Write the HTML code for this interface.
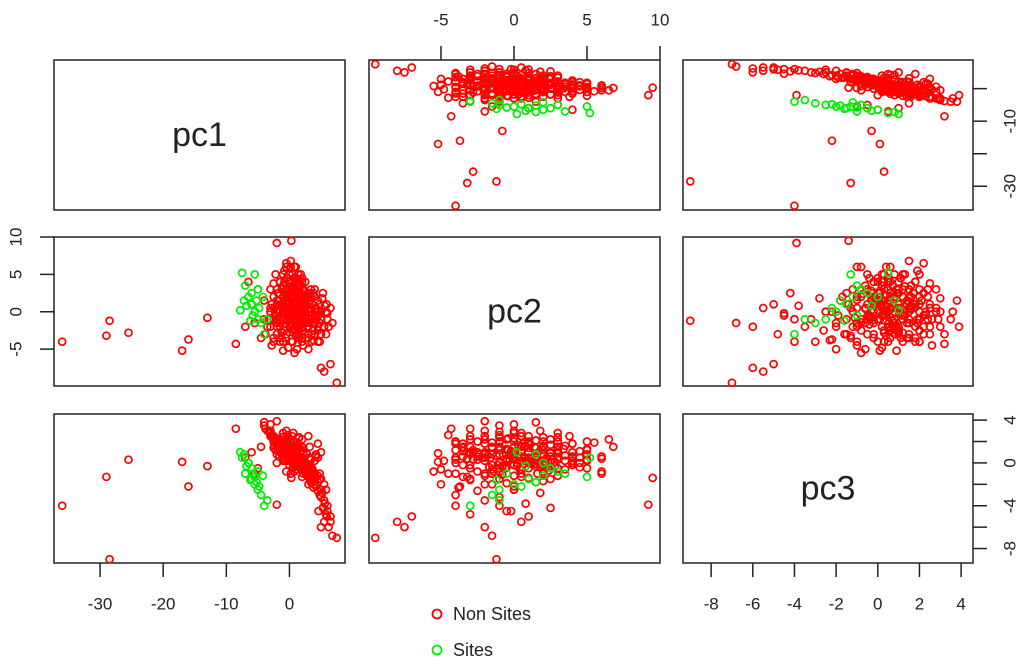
<!DOCTYPE html>
<html><head><meta charset="utf-8"><style>
html,body{margin:0;padding:0;background:#fff;}
svg{display:block;font-family:"Liberation Sans",Arial,sans-serif;}
</style></head><body>
<svg id="chart" width="1024" height="668" viewBox="0 0 1024 668" xmlns="http://www.w3.org/2000/svg"></svg>
<script>
const varNames = ["pc1","pc2","pc3"];
const coreP1 = [-1,0.5,2,3.5,4.5,-2.5, -2,-0.5,1,2.5,4,5,3, -3,-1.5,0,1.5,3,4.5,5.5,2, -2.5,-1,0.5,2,3.5,5,-0.3,1.2,4.2, -3,-1.8,-0.5,0.8,2,3.2,4.5,5.8,1.5,-1, -2.8,-1.2,0,1.2,2.4,3.6,4.8,0.6,-2, -2.5,-1,0.3,1.5,2.8,4,-0.2,1, -2,-0.5,1,2.2,3.4,0.2, -1.5,0,1.3,2.5,-0.8, -1,0.5,1.8,0, -0.5,0.8,0.2, -1.5,1.5,3, -0.8,0.8,2.2,3.8, -2,0.2,1.8,3.2,4.8, -2.2,-0.2,1,2.6,4, -2.4,-0.8,0.4,1.8,3,4.2, -1.6,-0.4,1,2.2,3.2, -1.8,0,1.6,3, -1,0.6,1.8, -0.4,1,2];
const coreP2 = [-4,-4,-4,-4,-4,-4, -3,-3,-3,-3,-3,-3,-3, -2,-2,-2,-2,-2,-2,-2,-2, -1,-1,-1,-1,-1,-1,-1,-1,-1, 0,0,0,0,0,0,0,0,0,0, 1,1,1,1,1,1,1,1,1, 2,2,2,2,2,2,2,2, 3,3,3,3,3,3, 4,4,4,4,4, 5,5,5,5, 6,6,6, -3.5,-3.5,-3.5, -2.5,-2.5,-2.5,-2.5, -1.5,-1.5,-1.5,-1.5,-1.5, -0.5,-0.5,-0.5,-0.5,-0.5, 0.5,0.5,0.5,0.5,0.5,0.5, 1.5,1.5,1.5,1.5,1.5, 2.5,2.5,2.5,2.5, 3.5,3.5,3.5, 4.5,4.5,4.5];
const coreP3 = [0.5,1.2,0,-1,1.8,2, 1.5,2.2,0.8,-0.5,-1.5,1,2.5, 2.5,1,1.8,0.2,-1,0.5,-2,2.2, 2,1.5,0,1.2,-0.8,-1.5,2.6,1.9,0.8, 3,2,0.8,1.5,-0.2,0.4,-1.2,-2.5,2.3,2.8, 2.5,1.8,0.5,1,0.2,-0.5,-1.5,2,0, 2,1.2,0.6,-0.2,0.8,-1,2.4,1.6, 1.5,0.5,1.2,-0.5,0.3,2, 1,-0.2,0.6,0,1.8, 0.8,-0.5,0.2,1.3, -0.8,0.4,-1, 1.8,0.6,-0.2, 0.3,2,1,-0.8, 0.8,1.4,-0.6,1.5,-1, 1.2,2.2,0.4,-0.4,0.2, 1.6,0.2,2.5,1.1,-1.3,0.6, 0.6,2.1,-0.3,1.4,0.5, 2.2,1,0.1,-0.3, 0.2,1.6,-0.6, 1.1,0,-0.4];
const denseP1 = [0,1,2,-1,0.5,1.5,2.5,-0.5,0.2,1.2, 2.2,3,-1.5,0.8,1.8,-0.8,0.4,1.4,2.6,3.4, -0.2,0.6,1.6,2.4,-1.2,0.9,1.9,2.9,0.1,1.1, -0.6,0.3,1.3,2.3,3.3,0.7,1.7,-0.4,2.1,1];
const denseP2 = [0,0.5,-0.5,1,-1,1.5,-1.5,2,-2,2.5, 0.2,-0.8,0.8,-1.2,1.2,-0.2,2.2,-2.2,1.8,0.4, 3,-2.8,2.8,-0.6,0.6,-1.8,1.6,-1.4,3.4,-3.2, 1.4,-0.4,0.3,-0.3,2.4,-2.4,0.9,1.1,-1.1,4];
const denseP3 = [0.5,1,0.2,1.4,0.8,0.3,-0.2,1.2,0.9,0.6, 0,-0.4,1.6,0.7,-0.1,1.1,0.4,0.5,-0.3,-0.6, 0.9,1,0.1,-0.5,1.8,0.7,0.2,-0.8,1.3,0.4, 1.5,1.2,0.6,0.3,-0.7,0.8,0.1,1.7,-0.2,0.5];
const extraP1 = [0,1,-1,2,-2,3,0.5,-0.5,1.5,-3, 4,2.5,-1.5,0,1,-0.5,0.3,-2.5,3.5,5, 4.5,-3.5,-3,2,1.2,-1,0.8,-0.2,1.8,2.8, -1.8,0.5,-0.8,1.3,3.2,5.5,6,5.8,6.5,4.8, -4,-4,-2.2,0.2,-1.2,2.2,3.8,-0.6,0.9,1.6, -2.8,-3.8,4.2,5.2,6.2,6.8,3,-1.5,0,2.5, -2,1,0.3,-0.3,1.7,-1.2,3.5,2.2,-2.5,0.7, 4,-0.8,1.4,-3.2,5,4.5,3.8,2,-0.2,0.8, 2.6,-1,1.1,0.1,-2.3,2.9,3.3,-1.7,5.6,6, 5.3,4.6,5.9,-3,-2,-0.5,1.5,0.6,2,-1.5, -7,-6,-5,-6.5,-5.5,-4.5,-2,0.3,5,5.5, 6.5,7.5,-36,-29,-28.5,-25.5,-17,-16,-13,-8.5];
const extraP2 = [0,1,2,-1,-1,0.5,3,-2,-3,0.5, -1.5,2,4,5,6,6.5,-4,-3.5,-3,0, 1.5,-2,3,4,-5,-5.2,2.2,1,0.2,-2, 0.3,-1,-0.5,3.5,1,-2,-1,-3,0.5,-4, -1,1.5,5,6.8,3,-4.5,2.5,-3.5,-2.5,1.5, -4.5,-3,0,1.8,-2,-1.5,-5,-1.5,2.5,0.5, 1.5,-0.5,0.8,-0.3,-1.7,-2.8,-0.5,2.8,3.8,4.5, 3,5.5,5,-1,-1,-2.5,-3.8,-3.5,-4.8,-5.5, 1.6,0.5,2,-1.6,-0.4,-0.8,2,2.5,0.8,-0.2, 2.5,-0.5,1,0,-2,1.8,-1,0.5,3,-4, -2,1,3,4,-1.5,-3.5,9.2,9.5,-7.5,-8, -7,-9.5,-4,-3.2,-1.2,-2.8,-5.2,-3.7,-0.8,-4.3];
const extraP3 = [0.5,0,1.5,-0.5,2,-1,1,0.8,-0.2,2.5, -2,-0.8,1.8,1.2,0.6,2.2,0.3,1.4,-1.6,-2.5, -1.8,3,2.8,0.2,-0.6,0.9,0.4,1,-0.3,-1.2, 1.6,0.1,1.3,0.7,-1.4,-3.5,-4,-4.8,-5.5,-3, 3.5,3.8,2,1.5,2.4,-1,-1.5,1.1,0.6,-0.1, 2.6,3.2,-2.2,-2.8,-6,-6.8,-2,1.9,0.9,-0.6, 2.1,0.3,0.2,0.7,-0.4,1.2,-1.9,-0.3,2.5,0.5, -1.2,1.9,0.3,2.9,-3.2,-2.6,-2.3,-1.3,0.2,-0.8, -1,1.5,0.1,0.5,2.3,-1.1,-1.7,1.7,-3.8,-4.5, -4.2,-4.5,-5,3.6,3.9,3,2.4,2.8,1.5,2, 0.5,1,-0.5,0,-1,1.5,-3.9,-1.4,-6,-5.5, -5,-7,-4,-1.3,-9,0.3,0.1,-2.2,-0.3,3.2];
const siteP1 = [-7.5,-7,-6.5,-6,-5.5,-5,-4.5,-4,-6,-7.2, -5.8,-5.2,-4.8,-6.8,-3.5,-4.2,-5,-7.8,-6.2,-5.5];
const siteP2 = [5.2,3.5,2,1,0,-1,-1.5,-3,2.5,1.5, -0.5,1.5,0.5,0.8,-1,2,3,0.2,-1.2,5];
const siteP3 = [0.5,-1,0,-1.5,-2,-2.5,-3,-4,-0.5,0.8, -1,-1.8,-2.2,-0.3,-3.5,-1.2,-0.8,1,-1.6,-1.3];
const pc1 = coreP1.concat(denseP1, extraP1, siteP1);
const pc2 = coreP2.concat(denseP2, extraP2, siteP2);
const pc3 = coreP3.concat(denseP3, extraP3, siteP3);
const group = [];
for (let i = 0; i < pc1.length; i++) group.push(i < pc1.length - siteP1.length ? "Non Sites" : "Sites");
const pc1Ticks = [-30,-20,-10,0];
const pc2Ticks = [-5,0,5,10];
const pc3Ticks = [-8,-6,-4,-2,0,2,4];
const data = [pc1, pc2, pc3];
const domains = [[-37.3, 8.8], [-9.93, 10], [-9.35, 4.57]];
const colX = [[54,345],[369,660],[683,973]];
const rowY = [[60,210],[237,386],[414,563]];
const NS = "http://www.w3.org/2000/svg";
const svg = document.getElementById("chart");
function xScale(v, val, col){const d=domains[v],p=colX[col];return p[0]+(val-d[0])/(d[1]-d[0])*(p[1]-p[0]);}
function yScale(v, val, row){const d=domains[v],p=rowY[row];return p[1]-(val-d[0])/(d[1]-d[0])*(p[1]-p[0]);}
function mk(tag, attrs){const e=document.createElementNS(NS,tag);for(const k in attrs)e.setAttribute(k,attrs[k]);svg.appendChild(e);return e;}
function label(x,y,txt,rot,size){const t=mk("text",{x:x,y:y,"text-anchor":"middle","dominant-baseline":"central","font-size":size||17,fill:"#222"});if(rot)t.setAttribute("transform","rotate(-90 "+x+" "+y+")");t.textContent=txt;return t;}
for (let r=0;r<3;r++){
  for (let c=0;c<3;c++){
    const x0=colX[c][0],x1=colX[c][1],y0=rowY[r][0],y1=rowY[r][1];
    const g = mk("rect",{x:x0,y:y0,width:x1-x0,height:y1-y0,fill:"none",stroke:"#222","stroke-width":1.5});
    
    
    if (r===c){
      const t=label((x0+x1)/2,(y0+y1)/2,varNames[r],false,34);
      
      
      continue;
    }
    for (let i=0;i<pc1.length;i++){
      const cx=xScale(c,data[c][i],c), cy=yScale(r,data[r][i],r);
      const pt=mk("circle",{cx:cx,cy:cy,r:3.5,fill:"none",stroke:group[i]==="Sites"?"#00ee00":"#ff0000","stroke-width":1.7});
      
      
    }
  }
}
function axisLine(x1,y1,x2,y2){const l=mk("line",{x1:x1,y1:y1,x2:x2,y2:y2,stroke:"#222","stroke-width":1.5});}
pc1Ticks.forEach(t=>{const x=xScale(0,t,0);axisLine(x,563,x,577);const l=label(x,604,String(t));});
pc3Ticks.forEach(t=>{const x=xScale(2,t,2);axisLine(x,563,x,577);const l=label(x,604,String(t));});
pc2Ticks.forEach(t=>{const x=xScale(1,t,1);axisLine(x,60,x,46);const l=label(x,20,String(t));});
[-5,0,5,10].forEach(t=>{const y=yScale(1,t,1);axisLine(54,y,40,y);const l=label(16,y,String(t),true);});
pc1Ticks.forEach(t=>{const y=yScale(0,t,0);axisLine(973,y,987,y);if(t===-10||t===-30){const l=label(1010,y,String(t),true);}});
pc3Ticks.forEach(t=>{const y=yScale(2,t,2);axisLine(973,y,987,y);if(t%4===0){const l=label(1010,y,String(t),true);}});
[["Non Sites","#ff0000",614],["Sites","#00ee00",650]].forEach(e=>{
  const c=mk("circle",{cx:437,cy:e[2],r:4.5,fill:"none",stroke:e[1],"stroke-width":1.8});
  
  
  const t=mk("text",{x:453,y:e[2],"dominant-baseline":"central","font-size":18,fill:"#222"});
  t.textContent=e[0];
  
  
});
</script>
</body></html>
